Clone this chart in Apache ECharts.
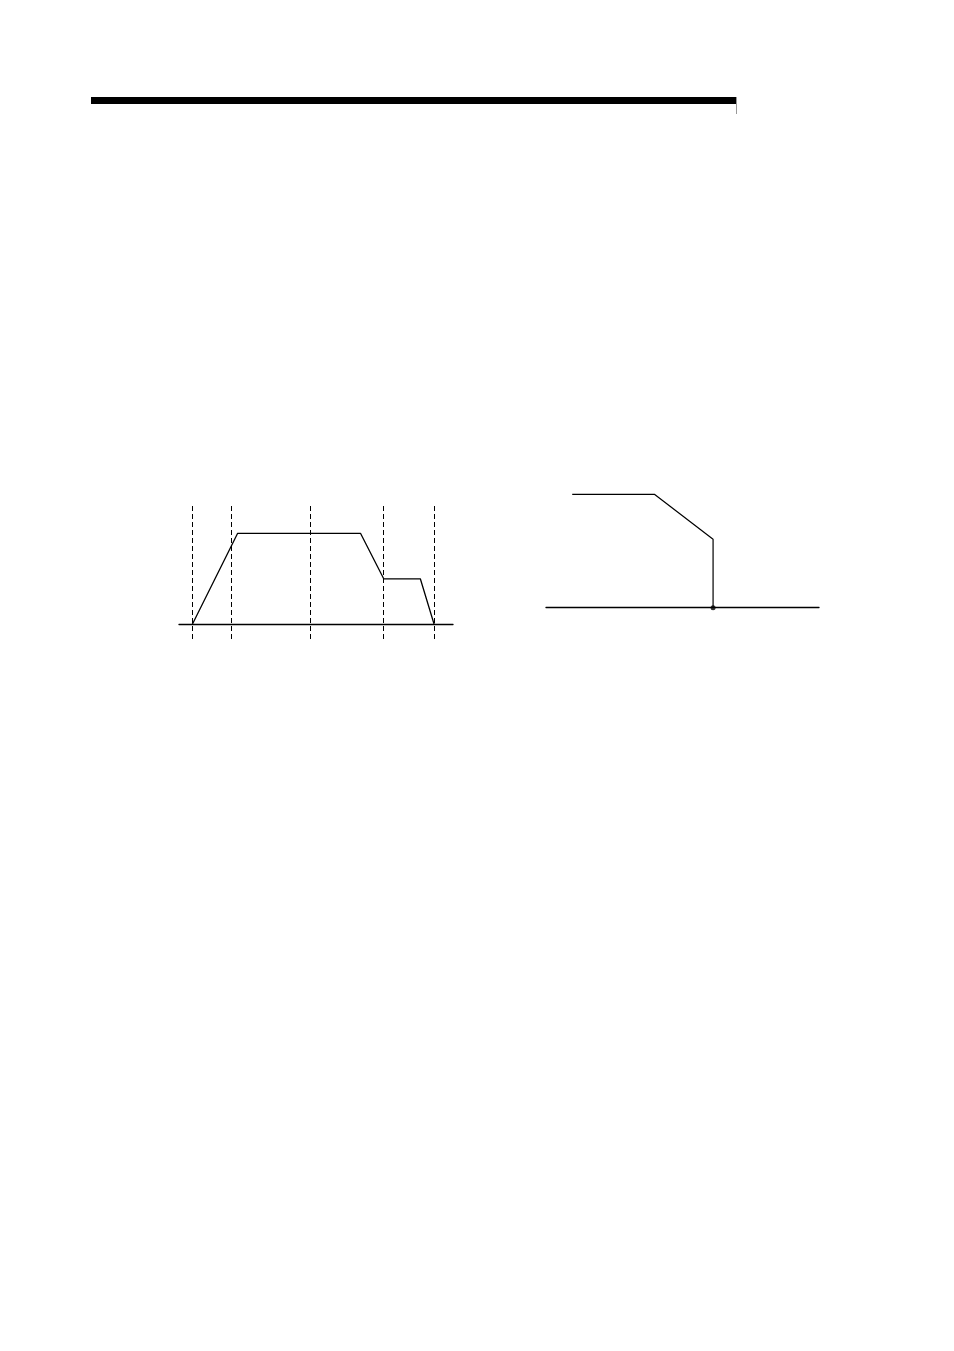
<!DOCTYPE html>
<html>
<head>
<meta charset="utf-8">
<script src="https://cdn.jsdelivr.net/npm/echarts@6/dist/echarts.min.js"></script>
<style>
html,body{margin:0;padding:0;background:#fff;}
#c{width:954px;height:1351px;}
</style>
</head>
<body>
<div id="c"></div>
<script>
// Left chart: speed profile (time units, speed %)
var profileTime = [0, 1.15, 4.27, 4.86, 5.79, 6.14];
var profileSpeed = [0, 100, 100, 50, 50, 0];
var markerTimes = [0, 0.99, 2.99, 4.86, 6.14];

// Right chart: stepped/sloped line ending at a point on the axis
var rightX = [9.6, 39.7, 61.2, 61.2];
var rightY = [100, 100, 60.3, 0];
var dotX = [61.2];
var dotY = [0];

var chart = echarts.init(document.getElementById('c'), null, {renderer: 'canvas'});

function pairs(xs, ys) { return xs.map(function (x, i) { return [x, ys[i]]; }); }

var hiddenY = {show: false, splitLine: {show: false}};
var option = {
  backgroundColor: '#ffffff',
  animation: false,
  graphic: [
    {type: 'rect', shape: {x: 91, y: 97, width: 645, height: 7}, style: {fill: '#000'}},
    {type: 'line', shape: {x1: 736.5, y1: 97, x2: 736.5, y2: 114}, style: {stroke: '#999', lineWidth: 1}}
  ],
  grid: [
    {left: 179, top: 504, width: 274, height: 135},
    {left: 546, top: 494.3, width: 273, height: 113.4}
  ],
  xAxis: [
    {gridIndex: 0, type: 'value', min: -0.34, max: 6.62,
     axisLine: {show: true, onZero: true, lineStyle: {color: '#000', width: 1.3}},
     axisTick: {show: false}, axisLabel: {show: false}, splitLine: {show: false}},
    {gridIndex: 1, type: 'value', min: 0, max: 100,
     axisLine: {show: true, onZero: true, lineStyle: {color: '#000', width: 1.3}},
     axisTick: {show: false}, axisLabel: {show: false}, splitLine: {show: false}}
  ],
  yAxis: [
    Object.assign({gridIndex: 0, type: 'value', min: -16.2, max: 132.2}, hiddenY),
    Object.assign({gridIndex: 1, type: 'value', min: 0, max: 100}, hiddenY)
  ],
  series: [
    {type: 'line', xAxisIndex: 0, yAxisIndex: 0, data: pairs(profileTime, profileSpeed),
     showSymbol: false, symbol: 'none', clip: false,
     lineStyle: {color: '#000', width: 1.3},
     markLine: {silent: true, symbol: ['none', 'none'], label: {show: false},
       lineStyle: {color: '#000', width: 1, type: [5, 3]},
       data: markerTimes.map(function (t) { return {xAxis: t}; })}},
    {type: 'line', xAxisIndex: 1, yAxisIndex: 1, data: pairs(rightX, rightY),
     showSymbol: false, symbol: 'none', clip: false,
     lineStyle: {color: '#000', width: 1.2}},
    {type: 'scatter', xAxisIndex: 1, yAxisIndex: 1, data: pairs(dotX, dotY),
     symbol: 'circle', symbolSize: 5, clip: false, itemStyle: {color: '#000'}}
  ]
};
chart.setOption(option);
</script>
</body>
</html>
